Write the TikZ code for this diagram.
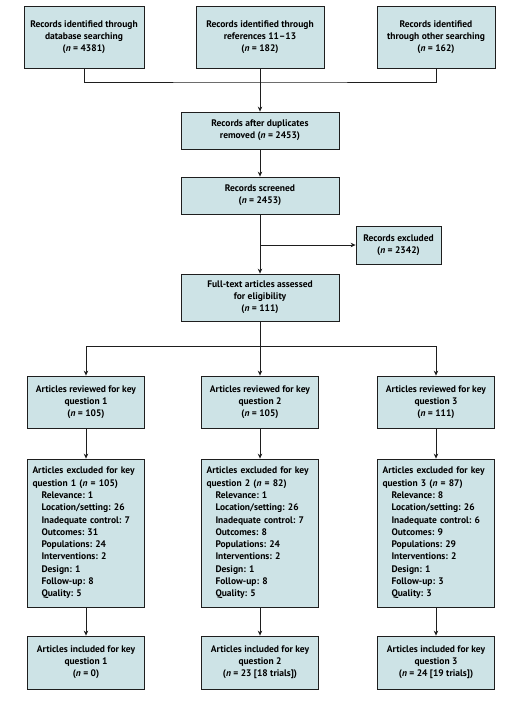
\documentclass[tikz,border=0pt]{standalone}
\usepackage{fontspec}
\setmainfont{PT Sans}
\usetikzlibrary{arrows.meta}
\definecolor{boxfill}{RGB}{205,227,230}
\definecolor{lin}{RGB}{30,30,30}
\frenchspacing
\begin{document}
\begin{tikzpicture}[x=1pt,y=-1pt,
  box/.style={draw=lin, fill=boxfill, line width=0.8pt, align=center,
    font=\fontsize{9.5}{12}\selectfont\bfseries\frenchspacing, inner sep=2pt},
  lbox/.style={box, align=left, text width=107pt, inner xsep=5pt,
    font=\fontsize{9.5}{12.3}\selectfont\bfseries\frenchspacing},
  conn/.style={line width=0.8pt, draw=lin},
  arr/.style={conn, -{Stealth[length=5pt,width=4.5pt]}}]
\useasboundingbox (0,0) rectangle (512,701);
% top sources
\node[box, minimum width=120pt, minimum height=62pt] (s1) at (84,37)
  {Records identified through\\database searching\\(\textit{n} = 4381)};
\node[box, minimum width=128pt, minimum height=62pt] (s2) at (260,37)
  {Records identified through\\references 11--13\\(\textit{n} = 182)};
\node[box, minimum width=118pt, minimum height=62pt] (s3) at (436,37)
  {Records identified\\through other searching\\(\textit{n} = 162)};
\node[box, minimum width=158pt, minimum height=37pt] (dup) at (260,130.5)
  {Records after duplicates\\removed (\textit{n} = 2453)};
\node[box, minimum width=158pt, minimum height=37pt] (scr) at (260,195.5)
  {Records screened\\(\textit{n} = 2453)};
\node[box, minimum width=85pt, minimum height=38pt] (exc) at (398.5,245)
  {Records excluded\\(\textit{n} = 2342)};
\node[box, minimum width=158pt, minimum height=47pt] (ft) at (260,297.5)
  {Full-text articles assessed\\for eligibility\\(\textit{n} = 111)};
% reviewed
\node[box, minimum width=117pt, minimum height=52pt] (r1) at (86,402)
  {Articles reviewed for key\\question 1\\(\textit{n} = 105)};
\node[box, minimum width=117pt, minimum height=52pt] (r2) at (260,402)
  {Articles reviewed for key\\question 2\\(\textit{n} = 105)};
\node[box, minimum width=117pt, minimum height=52pt] (r3) at (436,402)
  {Articles reviewed for key\\question 3\\(\textit{n} = 111)};
% excluded
\node[lbox, minimum height=148pt] (e1) at (86,533)
  {Articles excluded for key\\question 1 (\textit{n} = 105)\\
   \hspace*{9pt}Relevance: 1\\ \hspace*{9pt}Location/setting: 26\\
   \hspace*{9pt}Inadequate control: 7\\ \hspace*{9pt}Outcomes: 31\\
   \hspace*{9pt}Populations: 24\\ \hspace*{9pt}Interventions: 2\\
   \hspace*{9pt}Design: 1\\ \hspace*{9pt}Follow-up: 8\\ \hspace*{9pt}Quality: 5};
\node[lbox, minimum height=148pt] (e2) at (260,533)
  {Articles excluded for key\\question 2 (\textit{n} = 82)\\
   \hspace*{9pt}Relevance: 1\\ \hspace*{9pt}Location/setting: 26\\
   \hspace*{9pt}Inadequate control: 7\\ \hspace*{9pt}Outcomes: 8\\
   \hspace*{9pt}Populations: 24\\ \hspace*{9pt}Interventions: 2\\
   \hspace*{9pt}Design: 1\\ \hspace*{9pt}Follow-up: 8\\ \hspace*{9pt}Quality: 5};
\node[lbox, minimum height=148pt] (e3) at (436,533)
  {Articles excluded for key\\question 3 (\textit{n} = 87)\\
   \hspace*{9pt}Relevance: 8\\ \hspace*{9pt}Location/setting: 26\\
   \hspace*{9pt}Inadequate control: 6\\ \hspace*{9pt}Outcomes: 9\\
   \hspace*{9pt}Populations: 29\\ \hspace*{9pt}Interventions: 2\\
   \hspace*{9pt}Design: 1\\ \hspace*{9pt}Follow-up: 3\\ \hspace*{9pt}Quality: 3};
% included
\node[box, minimum width=117pt, minimum height=53pt] (i1) at (86,662.5)
  {Articles included for key\\question 1\\(\textit{n} = 0)};
\node[box, minimum width=117pt, minimum height=53pt] (i2) at (260,662.5)
  {Articles included for key\\question 2\\(\textit{n} = 23 [18 trials])};
\node[box, minimum width=117pt, minimum height=53pt] (i3) at (436,662.5)
  {Articles included for key\\question 3\\(\textit{n} = 24 [19 trials])};
% connectors
\coordinate (m) at (260,82);
\draw[conn] (s1.south) |- (m) -| (s3.south);
\draw[conn] (s2.south) -- (m);
\draw[arr] (m) -- (dup.north);
\draw[arr] (dup) -- (scr);
\draw[arr] (scr) -- (ft);
\coordinate (b) at (260,245);
\draw[arr] (b) -- (exc.west);
\coordinate (br) at (260,346);
\draw[conn] (ft.south) -- (br);
\draw[arr] (br) -| (r1.north);
\draw[arr] (br) -| (r3.north);
\draw[arr] (br) -- (r2.north);
\foreach \k in {1,2,3}{
  \draw[arr] (r\k) -- (e\k);
  \draw[arr] (e\k) -- (i\k);
}
\end{tikzpicture}
\end{document}
